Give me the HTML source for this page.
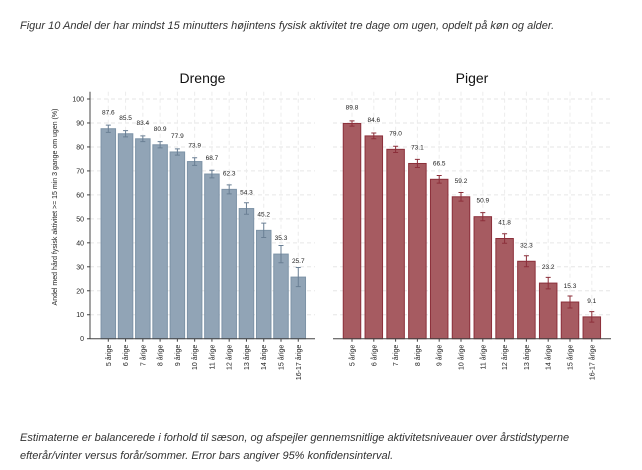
<!DOCTYPE html>
<html><head><meta charset="utf-8"><style>
body{margin:0;background:#fff;width:642px;height:470px;overflow:hidden;font-family:"Liberation Sans",sans-serif}
.t{position:absolute;left:20px;font-style:italic;color:#333;font-size:11px;white-space:nowrap}
</style></head><body>
<div class="t" style="top:20px">Figur 10 Andel der har mindst 15 minutters højintens fysisk aktivitet tre dage om ugen, opdelt på køn og alder.</div>
<svg id="c" width="642" height="470" style="position:absolute;left:0;top:0"></svg>
<div class="t" style="top:432px">Estimaterne er balancerede i forhold til sæson, og afspejler gennemsnitlige aktivitetsniveauer over årstidstyperne</div>
<div class="t" style="top:450px">efterår/vinter versus forår/sommer. Error bars angiver 95% konfidensinterval.</div>
<script>
const categories=["5 årige","6 årige","7 årige","8 årige","9 årige","10 årige","11 årige","12 årige","13 årige","14 årige","15 årige","16-17 årige"];
const boys=[87.6,85.5,83.4,80.9,77.9,73.9,68.7,62.3,54.3,45.2,35.3,25.7];
const boysErr=[1.5,1.3,1.2,1.3,1.3,1.6,1.6,1.9,2.4,3.0,3.6,4.0];
const girls=[89.8,84.6,79.0,73.1,66.5,59.2,50.9,41.8,32.3,23.2,15.3,9.1];
const girlsErr=[1.1,1.2,1.3,1.7,1.6,1.8,1.7,2.0,2.3,2.4,2.5,2.2];
const yTicks=[0,10,20,30,40,50,60,70,80,90,100];
const NS="http://www.w3.org/2000/svg",svg=document.getElementById('c');
function el(t,a,txt){const e=document.createElementNS(NS,t);for(const k in a)e.setAttribute(k,a[k]);if(txt!=null)e.textContent=txt;svg.appendChild(e);return e;}
const y0=338.7,yScale=v=>y0-v*2.397;
function panel(name,vals,errs,x0,x1,c0,pitch,bw,fill,stroke,ecol,title,showAxis){
  const xs=i=>c0+i*pitch;
  yTicks.forEach(v=>{if(v>0){const g=el('line',{x1:x0,x2:x1,y1:yScale(v),y2:yScale(v),stroke:'#e6e6e6','stroke-dasharray':'4,3'});
  }});
  categories.forEach((c,i)=>{const g=el('line',{x1:xs(i),x2:xs(i),y1:yScale(103),y2:y0,stroke:'#ececec','stroke-dasharray':'4,3'});
  });
  const t=el('text',{x:(x0+x1)/2,y:83,'text-anchor':'middle','font-size':14,fill:'#111'},title);
  
  vals.forEach((v,i)=>{
    const b=el('rect',{x:xs(i)-bw/2,y:yScale(v),width:bw,height:y0-yScale(v),fill:fill,stroke:stroke,'stroke-width':1});
    
    const lo=yScale(v-errs[i]),hi=yScale(v+errs[i]),cx=xs(i);
    const e=el('path',{d:`M${cx},${lo}V${hi}M${cx-2.5},${lo}H${cx+2.5}M${cx-2.5},${hi}H${cx+2.5}`,stroke:ecol,'stroke-width':1,fill:'none'});
    
    const l=el('text',{x:cx,y:yScale(v)-14,'text-anchor':'middle','font-size':6.5,fill:'#222'},v.toFixed(1));
    
    const xl=el('text',{transform:`translate(${cx+2.5},${y0+6}) rotate(-90)`,'text-anchor':'end','font-size':7,fill:'#222'},categories[i]);
    
    const tk=el('line',{x1:cx,x2:cx,y1:y0,y2:y0+3,stroke:'#444'});
    
  });
  const ax=el('line',{x1:x0,x2:x1,y1:y0,y2:y0,stroke:'#444','stroke-width':1});
  
  if(showAxis){
    const ya=el('line',{x1:x0,x2:x0,y1:yScale(103),y2:y0,stroke:'#444'});
    
    yTicks.forEach(v=>{const tl=el('text',{x:x0-6,y:yScale(v)+2.5,'text-anchor':'end','font-size':7,fill:'#222'},v);
      
      const tk=el('line',{x1:x0-3,x2:x0,y1:yScale(v),y2:yScale(v),stroke:'#444'});
      });
    const yt=el('text',{transform:`translate(57,207) rotate(-90)`,'text-anchor':'middle','font-size':7,fill:'#222'},'Andel med hård fysisk aktivitet >= 15 min 3 gange om ugen (%)');
    
  }
}
panel('boys',boys,boysErr,90,315,108.3,17.27,14.5,'#91a4b6','#7d93a7','#6a7f94','Drenge',true);
panel('girls',girls,girlsErr,333,611,352,21.8,17.5,'#a65b61','#8c2f3a','#8c2f3a','Piger',false);
</script>
</body></html>
